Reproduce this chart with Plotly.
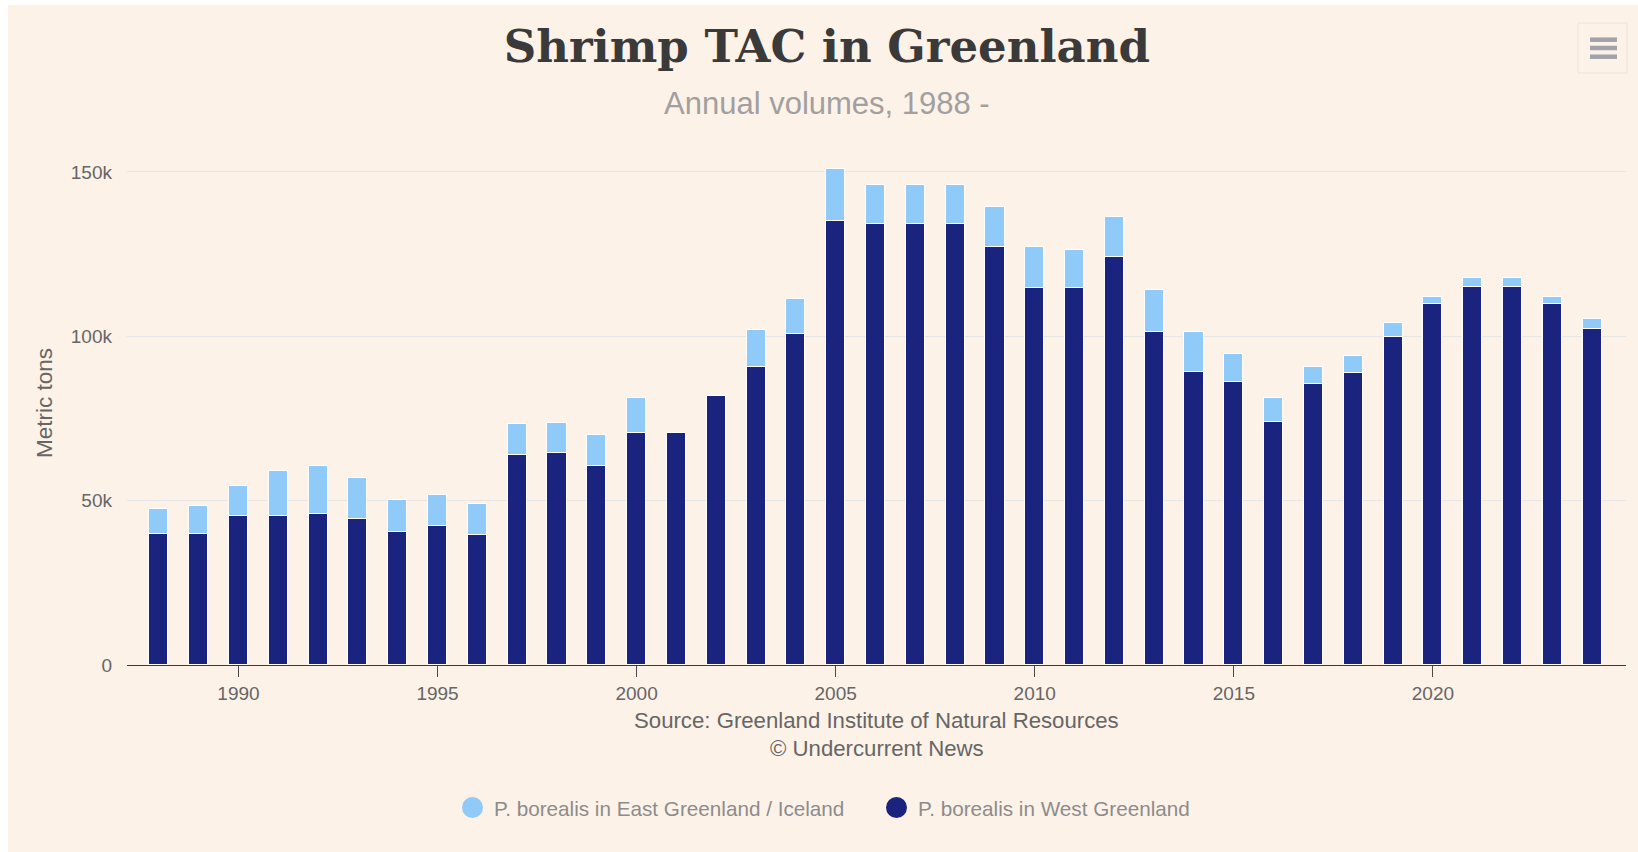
import plotly.graph_objects as go

years = list(range(1988, 2025))
west_greenland = [40000, 40000, 45350, 45350, 46000, 44400, 40600, 42200, 39600,
                  64000, 64500, 60600, 70600, 70600, 81800, 90800, 100800,
                  135100, 134100, 134100, 134100, 127200, 114600, 114600, 124000,
                  101300, 89100, 86000, 73800, 85500, 88700, 99700, 109800,
                  115000, 115000, 109800, 102300]
east_greenland = [7500, 8500, 9000, 13700, 14600, 12600, 9500, 9400, 9400,
                  9200, 9200, 9500, 10700, 0, 0, 11000, 10400,
                  15800, 12000, 12000, 12000, 12000, 12500, 11500, 12200,
                  12700, 12200, 8500, 7500, 5300, 5300, 4300, 2100,
                  2700, 2700, 2100, 2800]
y_ticks = [0, 50000, 100000, 150000]
y_tick_labels = ["0", "50k", "100k", "150k"]
x_ticks = [1990, 1995, 2000, 2005, 2010, 2015, 2020]

DARK = "#1a237e"
LIGHT = "#90caf9"
BG = "#fdf2e8"
SANS = "Liberation Sans, Arial, Helvetica, sans-serif"

# figure placed at (8, 5) in the page (body margin set in post_script)
OX, OY = 8, 5
W, H = 1630, 847
ML, MR, MT, MB = 119, 12, 134, 187
PW, PH = W - ML - MR, H - MT - MB


def px(x):  # page pixel -> paper x
    return (x - OX - ML) / PW


def py(y):  # page pixel -> paper y
    return (OY + MT + PH - y) / PH


fig = go.Figure()
fig.add_trace(go.Bar(x=years, y=west_greenland, name="P. borealis in West Greenland",
                     marker=dict(color=DARK, line=dict(color="white", width=1)),
                     width=0.48, showlegend=False))
fig.add_trace(go.Bar(x=years, y=east_greenland, name="P. borealis in East Greenland / Iceland",
                     marker=dict(color=LIGHT, line=dict(color="white", width=1)),
                     width=0.48, showlegend=False))

# legend entries drawn as circles
for name, col in [("P. borealis in East Greenland / Iceland", LIGHT),
                  ("P. borealis in West Greenland", DARK)]:
    fig.add_trace(go.Scatter(x=[None], y=[None], mode="markers", name=name,
                             marker=dict(color=col, size=16, line=dict(color=col, width=5))))

fig.update_layout(
    width=W, height=H,
    barmode="stack",
    paper_bgcolor=BG, plot_bgcolor="rgba(0,0,0,0)",
    margin=dict(l=ML, r=MR, t=MT, b=MB),
    font=dict(family=SANS, color="#666666", size=19),
    title=dict(text="<b>Shrimp TAC in Greenland</b>", x=(826.8 - OX) / W, xanchor="center",
               y=1 - (46 - OY) / H, yanchor="middle", yref="container",
               font=dict(family="DejaVu Serif, Georgia, serif", size=45, color="#3a3a3a")),
    xaxis=dict(range=[1987.2, 2024.85], tickvals=x_ticks, ticks="outside", ticklen=11,
               tickcolor="#4a4a4a", showline=True, linecolor="#3a3a3a", linewidth=1,
               showgrid=False, zeroline=False, tickfont=dict(size=19, color="#666666")),
    yaxis=dict(range=[0, 160000], tickvals=y_ticks, ticktext=y_tick_labels,
               showgrid=True, gridcolor="#e6e6e6", gridwidth=1, zeroline=False,
               ticklabelstandoff=14, tickfont=dict(size=19, color="#666666")),
    legend=dict(orientation="h", traceorder="normal", x=px(451), xanchor="left",
                y=py(807.5), yanchor="middle", entrywidth=376, entrywidthmode="pixels",
                itemwidth=33,
                font=dict(size=20.7, color="#8c8c8c"), bgcolor="rgba(0,0,0,0)"),
    bargap=0,
)

fig.add_annotation(text="Annual volumes, 1988 -", x=px(826.8), y=py(103.4), xref="paper", yref="paper",
                   showarrow=False, xanchor="center", yanchor="middle",
                   font=dict(size=31, color="#a0a0a0"))
fig.add_annotation(text="Metric tons", x=px(44), y=py(403), xref="paper", yref="paper",
                   showarrow=False, textangle=-90, xanchor="center", yanchor="middle",
                   font=dict(size=22.5, color="#666666"))
fig.add_annotation(text="Source: Greenland Institute of Natural Resources", x=px(876.7), y=py(720.8),
                   xref="paper", yref="paper", showarrow=False, xanchor="center", yanchor="middle",
                   font=dict(size=22.2, color="#666666"))
fig.add_annotation(text="© Undercurrent News", x=px(876.7), y=py(748),
                   xref="paper", yref="paper", showarrow=False, xanchor="center", yanchor="middle",
                   font=dict(size=22.2, color="#666666"))

# context menu button (top right)
fig.add_shape(type="rect", xref="paper", yref="paper", x0=px(1578), x1=px(1627), y0=py(23), y1=py(73),
              line=dict(color="#f2e2d2", width=1), fillcolor=BG)
for ly in [39.7, 48, 56.7]:
    fig.add_shape(type="line", xref="paper", yref="paper", x0=px(1590), x1=px(1617), y0=py(ly), y1=py(ly),
                  line=dict(color="#a2a3aa", width=4.5))

fig.write_html("out.html", config={"displayModeBar": False},
               post_script="document.body.style.margin='5px 0 0 8px';"
                           "document.body.style.overflow='hidden';")
